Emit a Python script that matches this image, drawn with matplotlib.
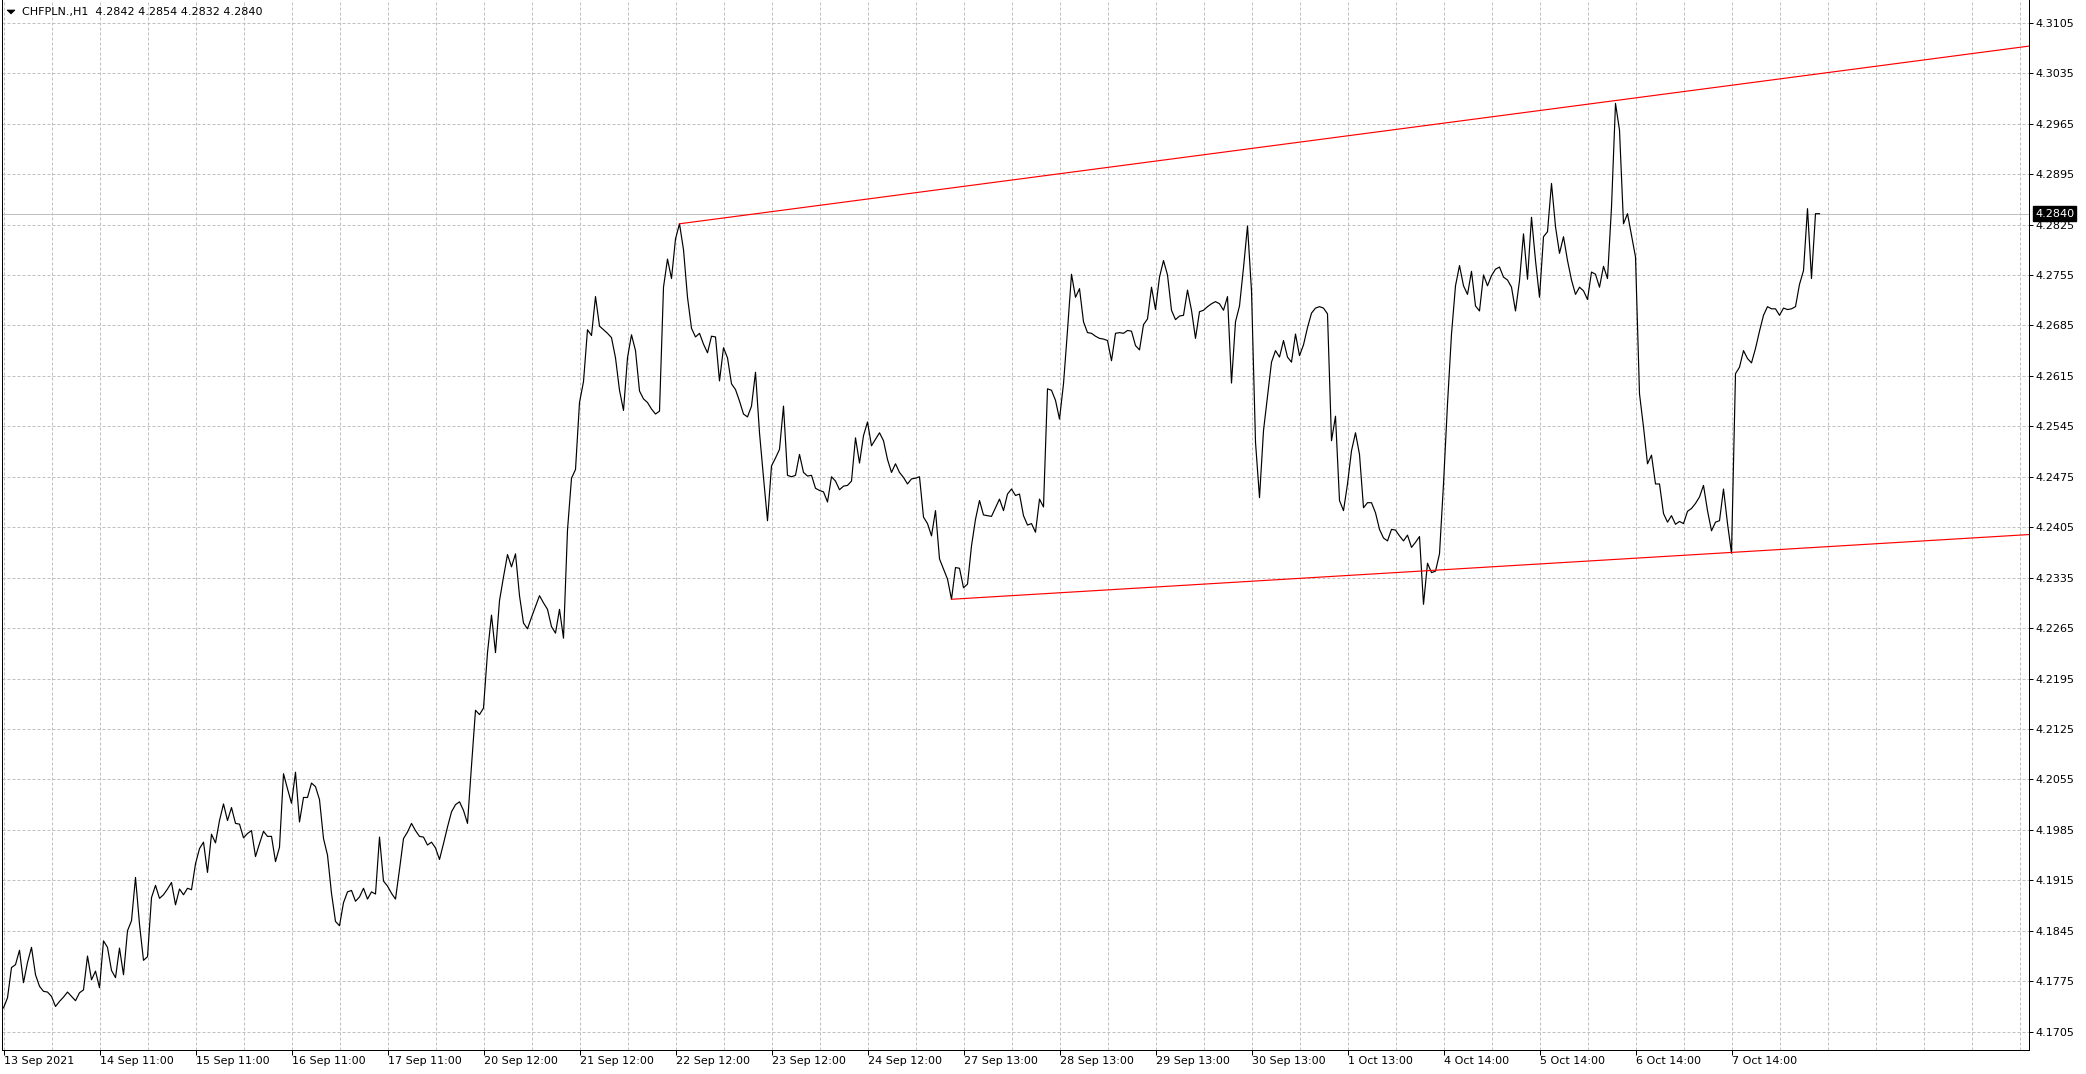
import numpy as np
import matplotlib.pyplot as plt
from matplotlib.patches import Polygon

W, H = 2086, 1074

# CHFPLN H1 closes, one value per bar
week1 = [4.1738, 4.1752, 4.1794, 4.1798, 4.1818, 4.1773, 4.1801, 4.1822, 4.1784, 4.1768,
         4.1761, 4.1760, 4.1754, 4.1740, 4.1747, 4.1753, 4.1760, 4.1754, 4.1748, 4.1759,
         4.1763, 4.1810, 4.1777, 4.1789, 4.1766, 4.1831, 4.1822, 4.1790, 4.1780, 4.1821,
         4.1784, 4.1845, 4.1859, 4.1919, 4.1854, 4.1804, 4.1809, 4.1891, 4.1908, 4.1890,
         4.1895, 4.1903, 4.1912, 4.1881, 4.1903, 4.1895, 4.1904, 4.1902, 4.1938, 4.1959,
         4.1968, 4.1926, 4.1979, 4.1967, 4.1998, 4.2021, 4.1998, 4.2016, 4.1994, 4.1993,
         4.1974, 4.1980, 4.1984, 4.1948, 4.1966, 4.1983, 4.1976, 4.1976, 4.1941, 4.1961,
         4.2063, 4.2042, 4.2022, 4.2065, 4.1996, 4.2030, 4.2030, 4.2050, 4.2045, 4.2027,
         4.1973, 4.1950, 4.1897, 4.1858, 4.1852, 4.1884, 4.1899, 4.1901, 4.1886, 4.1892,
         4.1904, 4.1889, 4.1899, 4.1896, 4.1975, 4.1914, 4.1907, 4.1897, 4.1889, 4.1930,
         4.1973, 4.1982, 4.1994, 4.1984, 4.1976, 4.1975, 4.1964, 4.1968]
week2 = [4.1960, 4.1944, 4.1966, 4.1989, 4.2010, 4.2020, 4.2024, 4.2012, 4.1994, 4.2074,
         4.2151, 4.2145, 4.2154, 4.2231, 4.2283, 4.2231, 4.2303, 4.2336, 4.2367, 4.2350,
         4.2368, 4.2310, 4.2272, 4.2264, 4.2280, 4.2295, 4.2310, 4.2300, 4.2291, 4.2267,
         4.2258, 4.2291, 4.2251, 4.2401, 4.2473, 4.2485, 4.2578, 4.2607, 4.2679, 4.2671,
         4.2725, 4.2684, 4.2679, 4.2674, 4.2668, 4.2640, 4.2595, 4.2567, 4.2640, 4.2672,
         4.2650, 4.2594, 4.2583, 4.2578, 4.2569, 4.2562, 4.2566, 4.2738, 4.2777, 4.2750,
         4.2805, 4.2826, 4.2790, 4.2724, 4.2681, 4.2669, 4.2674, 4.2659, 4.2647, 4.2670,
         4.2669, 4.2608, 4.2654, 4.2640, 4.2604, 4.2596, 4.2580, 4.2562, 4.2558, 4.2573,
         4.2620, 4.2536, 4.2474, 4.2414, 4.2490, 4.2501, 4.2513, 4.2573, 4.2477, 4.2475,
         4.2477, 4.2506, 4.2481, 4.2476, 4.2477, 4.2459, 4.2456, 4.2454, 4.2440, 4.2475,
         4.2469, 4.2457, 4.2462, 4.2463, 4.2469, 4.2529, 4.2494, 4.2532, 4.2551, 4.2518,
         4.2527, 4.2536, 4.2525, 4.2499, 4.2481, 4.2493, 4.2481, 4.2474, 4.2465]
week3 = [4.2472, 4.2473, 4.2475, 4.2419, 4.2410, 4.2393, 4.2428, 4.2361, 4.2347, 4.2333,
         4.2305, 4.2349, 4.2348, 4.2321, 4.2326, 4.2379, 4.2416, 4.2442, 4.2422, 4.2421,
         4.2420, 4.2432, 4.2444, 4.2428, 4.2451, 4.2458, 4.2449, 4.2451, 4.2421, 4.2408,
         4.2410, 4.2398, 4.2444, 4.2433, 4.2597, 4.2595, 4.2581, 4.2555, 4.2604, 4.2678,
         4.2756, 4.2724, 4.2736, 4.2690, 4.2675, 4.2674, 4.2670, 4.2667, 4.2666, 4.2664,
         4.2636, 4.2674, 4.2675, 4.2674, 4.2678, 4.2677, 4.2657, 4.2651, 4.2686, 4.2694,
         4.2738, 4.2707, 4.2752, 4.2775, 4.2755, 4.2706, 4.2693, 4.2698, 4.2699, 4.2734,
         4.2706, 4.2667, 4.2704, 4.2706, 4.2711, 4.2715, 4.2718, 4.2715, 4.2706, 4.2725,
         4.2605, 4.2690, 4.2712, 4.2765, 4.2823, 4.2733, 4.2523, 4.2446, 4.2539, 4.2587,
         4.2634, 4.2650, 4.2641, 4.2664, 4.2641, 4.2634, 4.2673, 4.2643, 4.2658, 4.2682,
         4.2702, 4.2709, 4.2711, 4.2709, 4.2701, 4.2525, 4.2559, 4.2442, 4.2428, 4.2465,
         4.2511, 4.2536, 4.2506, 4.2432, 4.2439, 4.2439, 4.2425, 4.2402, 4.2390]
week4 = [4.2386, 4.2402, 4.2401, 4.2393, 4.2386, 4.2394, 4.2377, 4.2384, 4.2392, 4.2298,
         4.2355, 4.2342, 4.2344, 4.2368, 4.2465, 4.2576, 4.2673, 4.2740, 4.2768, 4.2740,
         4.2728, 4.2760, 4.2712, 4.2705, 4.2755, 4.2740, 4.2754, 4.2763, 4.2766, 4.2752,
         4.2748, 4.2738, 4.2705, 4.2747, 4.2812, 4.2749, 4.2835, 4.2775, 4.2724, 4.2808,
         4.2815, 4.2882, 4.2822, 4.2785, 4.2808, 4.2775, 4.2748, 4.2728, 4.2738, 4.2733,
         4.2721, 4.2759, 4.2756, 4.2738, 4.2767, 4.2750, 4.2849, 4.2993, 4.2956, 4.2826,
         4.2840, 4.2810, 4.2780, 4.2590, 4.2544, 4.2493, 4.2505, 4.2465, 4.2465, 4.2424,
         4.2412, 4.2421, 4.2409, 4.2413, 4.2410, 4.2427, 4.2431, 4.2438, 4.2447, 4.2463,
         4.2428, 4.2400, 4.2412, 4.2414, 4.2458, 4.2410, 4.2369, 4.2618, 4.2627, 4.2650,
         4.2639, 4.2633, 4.2653, 4.2677, 4.2699, 4.2711, 4.2708, 4.2708, 4.2699, 4.2709,
         4.2707, 4.2708, 4.2711, 4.2742, 4.2761, 4.2847, 4.2750, 4.2840, 4.2840]

closes = week1 + week2 + week3 + week4
bars = np.arange(len(closes))

time_bars = [0, 24, 48, 72, 96, 120, 144, 168, 192, 216, 240, 264, 288, 312, 336, 360, 384, 408, 432]
time_labels = ['13 Sep 2021', '14 Sep 11:00', '15 Sep 11:00', '16 Sep 11:00', '17 Sep 11:00',
               '20 Sep 12:00', '21 Sep 12:00', '22 Sep 12:00', '23 Sep 12:00', '24 Sep 12:00',
               '27 Sep 13:00', '28 Sep 13:00', '29 Sep 13:00', '30 Sep 13:00', '1 Oct 13:00',
               '4 Oct 14:00', '5 Oct 14:00', '6 Oct 14:00', '7 Oct 14:00']
price_ticks = [4.1705, 4.1775, 4.1845, 4.1915, 4.1985, 4.2055, 4.2125, 4.2195, 4.2265, 4.2335,
               4.2405, 4.2475, 4.2545, 4.2615, 4.2685, 4.2755, 4.2825, 4.2895, 4.2965, 4.3035,
               4.3105]

# trend lines: two anchor points each (bar, price), drawn as rays to the right
upper_trend = [(169, 4.2826), (403, 4.2997)]
lower_trend = [(237, 4.2305), (432, 4.2370)]

last_price = 4.2840
title = 'CHFPLN.,H1  4.2842 4.2854 4.2832 4.2840'

px = 0.72  # one pixel in points at 100 dpi
fig = plt.figure(figsize=(W/100, H/100), dpi=100)
ax = fig.add_axes([2/W, (H-1050)/H, 2027/W, 1050/H])
x_left, x_right = -0.375, 506.375
ax.set_xlim(x_left, x_right)
ax.set_ylim(4.16796, 4.31365)

# dashes are in units of the line width, so (3, 2) means 3 px on, 2 px off
for b in range(0, 505, 12):
    ax.axvline(b, color='#c0c0c0', lw=px, dashes=(3, 2), zorder=1)
for p in price_ticks:
    ax.axhline(p, color='#c0c0c0', lw=px, dashes=(3, 2), zorder=1)
ax.axhline(last_price, color='#c0c0c0', lw=px, zorder=1.5)

ax.plot(bars, closes, color='black', lw=0.85, zorder=2)

for (b1, p1), (b2, p2) in [upper_trend, lower_trend]:
    slope = (p2-p1)/(b2-b1)
    ax.plot([b1, x_right], [p1, p1+slope*(x_right-b1)], color='#ff0000', lw=0.85, zorder=2.2)

ax.yaxis.tick_right()
ax.set_yticks(price_ticks)
ax.set_yticklabels(['%.4f' % p for p in price_ticks])
ax.set_xticks(time_bars)
ax.set_xticklabels(time_labels, ha='left')
ax.tick_params(axis='y', direction='out', length=4*px, width=px, pad=1.5, labelsize=8, colors='black')
ax.tick_params(axis='x', direction='out', length=5*px, width=px, pad=1, labelsize=8, colors='black')
for s in ['left', 'bottom', 'right']:
    ax.spines[s].set_linewidth(px)
ax.spines['top'].set_visible(False)

ax.annotate('%.4f' % last_price, xy=(1.0, last_price), xycoords=('axes fraction', 'data'),
            xytext=(6*px, 0), textcoords='offset points', ha='left', va='center',
            fontsize=8, color='white', annotation_clip=False, zorder=5,
            bbox=dict(boxstyle='square,pad=0.2', fc='black', ec='black'))

fig.patches.append(Polygon([[7/W, 1-10/H], [15/W, 1-10/H], [11/W, 1-14/H]],
                           closed=True, fc='black', ec='black', lw=0.5,
                           transform=fig.transFigure, figure=fig))
fig.text(22/W, 1-12.5/H, title, ha='left', va='center', fontsize=8)

plt.savefig('out.png', dpi=100)
